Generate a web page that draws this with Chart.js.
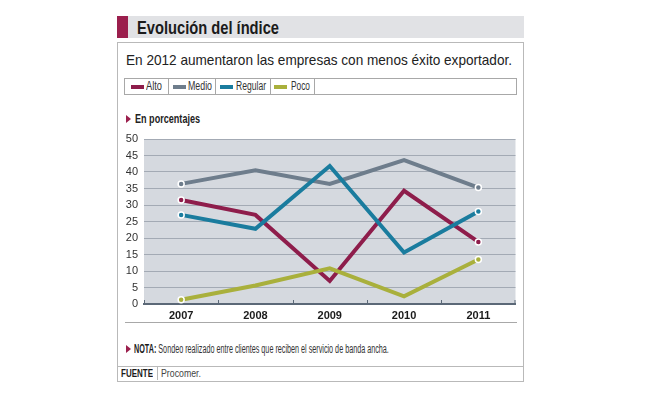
<!DOCTYPE html>
<html>
<head>
<meta charset="utf-8">
<script src="https://cdn.jsdelivr.net/npm/chart.js@4/dist/chart.umd.min.js"></script>
<style>
  html, body { margin: 0; padding: 0; background: #fff; }
  body { width: 653px; height: 398px; position: relative; overflow: hidden;
         font-family: "Liberation Sans", Arial, sans-serif; color: #222; }
  .abs { position: absolute; white-space: nowrap; }
  .sq { display: inline-block; transform-origin: 0 50%; white-space: nowrap; }
  #titlebar { left: 117px; top: 16px; width: 407px; height: 22px; background: #e1e2e5; }
  #titlebar .mark { position: absolute; left: 0; top: 0; width: 11px; height: 22px; background: #9b1f4d; }
  #title { left: 137px; top: 17px; line-height: 22px; font-size: 18px; font-weight: bold; color: #1b1b1b; }
  #box { left: 117px; top: 42px; width: 405px; height: 338px; border: 1px solid #b9b9b9; }
  #subtitle { left: 126px; top: 51px; font-size: 15px; line-height: 18px; color: #222; }
  #legend { left: 124px; top: 78px; width: 391px; height: 15px; border: 1px solid #a8a8a8; }
  #legend .cell { position: absolute; top: 0; height: 15px; border-right: 1px solid #a8a8a8; }
  #legend .sw { position: absolute; top: 6px; width: 13px; height: 4px; }
  #legend .lab { position: absolute; top: 0; line-height: 15px; font-size: 12px; color: #333; }
  .tri { position: absolute; width: 0; height: 0; border-top: 4px solid transparent; border-bottom: 4px solid transparent; border-left: 5px solid #9b1f4d; }
  #unitTri { left: 126px; top: 115px; }
  #unit { left: 135px; top: 112px; font-size: 12px; font-weight: bold; line-height: 14px; color: #222; }
  #sep { left: 125px; top: 322px; width: 392px; height: 1px; background: #a8a8a8; }
  #noteTri { left: 126px; top: 345px; }
  #note { left: 134px; top: 342px; font-size: 12.5px; line-height: 14px; color: #333; }
  #note b { color: #1b1b1b; }
  #srcline { left: 117px; top: 366px; width: 407px; height: 1px; background: #b9b9b9; }
  #srcdiv { left: 157px; top: 366px; width: 1px; height: 14px; background: #b9b9b9; }
  #src1 { left: 121px; top: 367px; font-size: 11px; font-weight: bold; line-height: 13px; color: #1b1b1b; }
  #src2 { left: 161px; top: 367px; font-size: 11px; line-height: 13px; color: #444; }
  #wrap { left: 118px; top: 130px; width: 402px; height: 192px; }
</style>
</head>
<body>
<div id="titlebar" class="abs"><div class="mark"></div></div>
<div id="title" class="abs"><span class="sq" data-w="142">Evolución del índice</span></div>
<div id="box" class="abs"></div>
<div id="subtitle" class="abs"><span class="sq" data-w="386">En 2012 aumentaron las empresas con menos éxito exportador.</span></div>
<div id="legend" class="abs"></div>
<div id="unitTri" class="tri"></div>
<div id="unit" class="abs"><span class="sq" data-w="65">En porcentajes</span></div>
<div id="wrap" class="abs"><canvas id="chart" width="402" height="192"></canvas></div>
<div id="sep" class="abs"></div>
<div id="noteTri" class="tri"></div>
<div id="note" class="abs"><span class="sq" data-w="255"><b>NOTA:</b> Sondeo realizado entre clientes que reciben el servicio de banda ancha.</span></div>
<div id="srcline" class="abs"></div>
<div id="srcdiv" class="abs"></div>
<div id="src1" class="abs"><span class="sq" data-w="32">FUENTE</span></div>
<div id="src2" class="abs"><span class="sq" data-w="40">Procomer.</span></div>

<script>
// Data (percent)
const years = ['2007', '2008', '2009', '2010', '2011'];
const alto = [31.5, 27, 7, 34.3, 18.8];
const medio = [36.4, 40.5, 36.4, 43.6, 35.3];
const regular = [27, 22.8, 41.8, 15.6, 28];
const poco = [1.3, 5.6, 10.8, 2.3, 13.5];
const seriesNames = ['Alto', 'Medio', 'Regular', 'Poco'];
const seriesColors = ['#8e1d4b', '#6e7d8c', '#1a7c9e', '#a9b03c'];
const yTicks = [0, 5, 10, 15, 20, 25, 30, 35, 40, 45, 50];

const FONT = '"Liberation Sans", Arial, sans-serif';

// legend cells, laid out like the printed key
const legendCells = [[0, 44, 6, 21, 16], [44, 47, 4, 19, 24], [91, 55, 4, 20, 30], [146, 44, 3, 20, 19]];
const legendEl = document.getElementById('legend');
seriesNames.forEach((name, i) => {
  const [x, w, swX, labX, labW] = legendCells[i];
  const cell = document.createElement('div');
  cell.className = 'cell';
  cell.style.left = x + 'px';
  cell.style.width = (w - 1) + 'px';
  cell.innerHTML = '<span class="sw" style="left:' + swX + 'px;background:' + seriesColors[i] + '"></span>' +
    '<span class="lab" style="left:' + labX + 'px"><span class="sq" data-w="' + labW + '">' + name + '</span></span>';
  legendEl.appendChild(cell);
});

// narrow the html texts to the widths of the condensed print face
document.querySelectorAll('.sq').forEach(el => {
  const w = el.getBoundingClientRect().width;
  const target = +el.dataset.w;
  if (w > 0) el.style.transform = 'scaleX(' + (target / w).toFixed(3) + ')';
});

// grey plot background
const plotBg = {
  id: 'plotBg',
  beforeDraw(chart) {
    const { ctx, chartArea: a } = chart;
    ctx.save();
    ctx.fillStyle = '#d5d9df';
    ctx.fillRect(a.left, a.top, a.right - a.left, a.bottom - a.top);
    ctx.restore();
  }
};

// small tick marks standing on the x axis between the years
const betweenTicks = {
  id: 'betweenTicks',
  afterDraw(chart) {
    const { ctx, chartArea: a } = chart;
    const x = chart.scales.x;
    ctx.save();
    ctx.strokeStyle = '#5b6877';
    ctx.lineWidth = 1;
    for (let i = 0; i <= years.length; i++) {
      let px;
      if (i === 0) px = a.left + 0.5;
      else if (i === years.length) px = a.right - 0.5;
      else px = Math.round((x.getPixelForValue(i - 1) + x.getPixelForValue(i)) / 2) + 0.5;
      ctx.beginPath();
      ctx.moveTo(px, a.bottom - 4);
      ctx.lineTo(px, a.bottom);
      ctx.stroke();
    }
    ctx.restore();
  }
};

const values = [alto, medio, regular, poco];
const endPoint = ctx => (ctx.dataIndex === 0 || ctx.dataIndex === years.length - 1) ? 3 : 0;

new Chart(document.getElementById('chart'), {
  type: 'line',
  data: {
    labels: years,
    datasets: seriesNames.map((name, i) => ({
      label: name,
      data: values[i],
      borderColor: seriesColors[i],
      backgroundColor: seriesColors[i],
      borderWidth: 4,
      tension: 0,
      pointRadius: endPoint,
      pointHoverRadius: endPoint,
      pointBorderColor: '#ffffff',
      pointBorderWidth: 1.5,
      pointBackgroundColor: seriesColors[i]
    })).reverse()
  },
  options: {
    responsive: false,
    animation: false,
    events: [],
    layout: { padding: { top: 9, right: 4, left: 0, bottom: 0 } },
    plugins: { legend: { display: false }, tooltip: { enabled: false } },
    scales: {
      x: {
        offset: true,
        grid: { display: false, drawTicks: false },
        border: { display: true, color: '#5b6877', width: 2 },
        ticks: { color: '#1b1b1b', font: { family: FONT, size: 11, weight: 'bold' }, padding: 5, maxRotation: 0 },
        afterFit(s) { s.height = 18; s.paddingLeft = 0; s.paddingRight = 0; }
      },
      y: {
        min: 0,
        max: 50,
        afterBuildTicks(s) { s.ticks = yTicks.map(v => ({ value: v })); },
        grid: { color: '#a3aab4', lineWidth: 1, drawTicks: false },
        border: { display: false },
        ticks: { color: '#333', font: { family: FONT, size: 11 }, padding: 6, autoSkip: false },
        afterFit(s) { s.width = 26; s.paddingTop = 0; s.paddingBottom = 0; }
      }
    }
  },
  plugins: [plotBg, betweenTicks]
});
</script>
</body>
</html>
